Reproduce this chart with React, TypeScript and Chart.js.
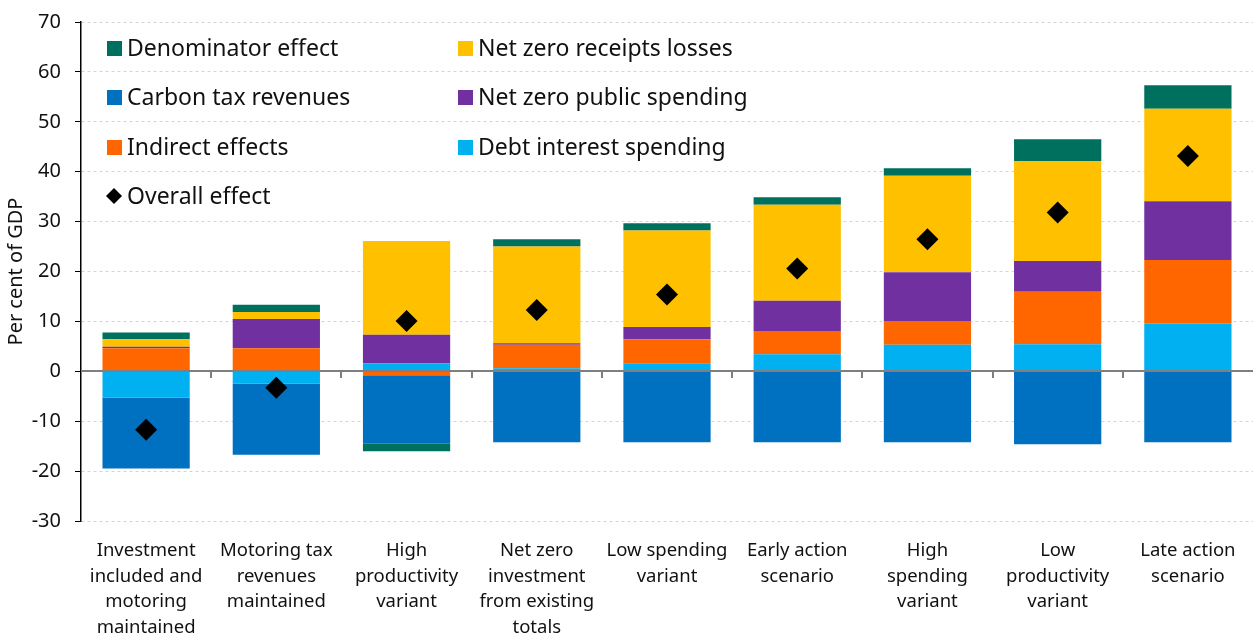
import React, { useEffect, useRef } from "react";
import { Chart, registerables } from "chart.js";

Chart.register(...registerables);

const categories: string[][] = [
  ["Investment", "included and", "motoring", "maintained"],
  ["Motoring tax", "revenues", "maintained"],
  ["High", "productivity", "variant"],
  ["Net zero", "investment", "from existing", "totals"],
  ["Low spending", "variant"],
  ["Early action", "scenario"],
  ["High", "spending", "variant"],
  ["Low", "productivity", "variant"],
  ["Late action", "scenario"],
];

const debtInterest = [-5.3, -2.5, 1.6, 0.6, 1.6, 3.4, 5.3, 5.4, 9.6];
const indirectEffects = [4.6, 4.6, -0.8, 4.7, 4.8, 4.7, 4.8, 10.55, 12.7];
const carbonTax = [-14.2, -14.2, -13.7, -14.2, -14.2, -14.2, -14.2, -14.6, -14.2];
const netZeroSpending = [0.3, 5.9, 5.7, 0.3, 2.5, 6.05, 9.75, 6.15, 11.8];
const netZeroReceipts = [1.5, 1.4, 18.8, 19.4, 19.3, 19.25, 19.35, 20.05, 18.5];
const denominator = [1.4, 1.45, -1.5, 1.45, 1.45, 1.5, 1.5, 4.35, 4.7];
const overallEffect = [-11.7, -3.3, 10.1, 12.3, 15.4, 20.6, 26.45, 31.8, 43.15];

const yTicks = { min: -30, max: 70, step: 10 };

const FONT = "'Noto Sans', sans-serif";

const COLORS = {
  denominator: "#00705E",
  receipts: "#FFC000",
  carbon: "#0070C0",
  spending: "#7030A0",
  indirect: "#FF6600",
  debt: "#00B0F0",
  overall: "#000000",
};

const legendItems = [
  { label: "Denominator effect", color: COLORS.denominator, col: 0, row: 0, diamond: false },
  { label: "Net zero receipts losses", color: COLORS.receipts, col: 1, row: 0, diamond: false },
  { label: "Carbon tax revenues", color: COLORS.carbon, col: 0, row: 1, diamond: false },
  { label: "Net zero public spending", color: COLORS.spending, col: 1, row: 1, diamond: false },
  { label: "Indirect effects", color: COLORS.indirect, col: 0, row: 2, diamond: false },
  { label: "Debt interest spending", color: COLORS.debt, col: 1, row: 2, diamond: false },
  { label: "Overall effect", color: COLORS.overall, col: 0, row: 3, diamond: true },
];

const overlayPlugin = {
  id: "overlay",
  afterDatasetsDraw(chart: any) {
    const ctx = chart.ctx;
    const { left, right } = chart.chartArea;
    const y = chart.scales.y;
    const x = chart.scales.x;
    const zy = Math.round(y.getPixelForValue(0));
    ctx.save();
    ctx.strokeStyle = "#7f7f7f";
    ctx.lineWidth = 2;
    ctx.beginPath();
    ctx.moveTo(left, zy);
    ctx.lineTo(right, zy);
    ctx.stroke();
    const n = categories.length;
    for (let i = 1; i < n; i++) {
      const px = Math.round((x.getPixelForValue(i - 1) + x.getPixelForValue(i)) / 2);
      ctx.beginPath();
      ctx.moveTo(px, zy);
      ctx.lineTo(px, zy + 7);
      ctx.stroke();
    }
    ctx.restore();
  },
  afterDraw(chart: any) {
    const ctx = chart.ctx;
    ctx.save();
    ctx.font = `23px ${FONT}`;
    ctx.textBaseline = "middle";
    const colX = [107, 458];
    const rowY = [48, 97, 147, 196];
    legendItems.forEach((it) => {
      const bx = colX[it.col];
      const cy = rowY[it.row];
      ctx.fillStyle = it.color;
      if (it.diamond) {
        ctx.beginPath();
        ctx.moveTo(bx + 7, cy - 8);
        ctx.lineTo(bx + 15, cy);
        ctx.lineTo(bx + 7, cy + 8);
        ctx.lineTo(bx - 1, cy);
        ctx.closePath();
        ctx.fill();
      } else {
        ctx.fillRect(bx, cy - 7, 15, 15);
      }
      ctx.fillStyle = "#111";
      ctx.fillText(it.label, bx + 20, cy + 1);
    });
    ctx.restore();
  },
};

export default function App() {
  const ref = useRef<HTMLCanvasElement | null>(null);

  useEffect(() => {
    document.body.style.margin = "0";
    document.body.style.overflow = "hidden";
    if (!ref.current) return;
    const barDs = (label: string, data: number[], color: string) => ({
      type: "bar" as const,
      label,
      data,
      backgroundColor: color,
      borderWidth: 0,
      stack: "s",
      categoryPercentage: 1,
      barPercentage: 0.67,
      order: 1,
    });
    const chart = new Chart(ref.current, {
      type: "bar",
      data: {
        labels: categories as any,
        datasets: [
          barDs("Debt interest spending", debtInterest, COLORS.debt),
          barDs("Indirect effects", indirectEffects, COLORS.indirect),
          barDs("Carbon tax revenues", carbonTax, COLORS.carbon),
          barDs("Net zero public spending", netZeroSpending, COLORS.spending),
          barDs("Net zero receipts losses", netZeroReceipts, COLORS.receipts),
          barDs("Denominator effect", denominator, COLORS.denominator),
          {
            type: "line" as const,
            label: "Overall effect",
            data: overallEffect,
            showLine: false,
            pointStyle: "rectRot",
            pointRadius: 11,
            pointHoverRadius: 11,
            pointBackgroundColor: COLORS.overall,
            pointBorderColor: COLORS.overall,
            pointBorderWidth: 0,
            stack: "overall",
            order: 0,
          } as any,
        ],
      },
      options: {
        animation: false,
        responsive: true,
        maintainAspectRatio: false,
        layout: { autoPadding: false, padding: { top: 22, right: 0, left: 0, bottom: 0 } } as any,
        plugins: {
          legend: { display: false },
          tooltip: { enabled: false },
        },
        scales: {
          x: {
            stacked: true,
            grid: { display: false },
            border: { display: false },
            ticks: {
              color: "#111",
              font: { family: FONT, size: 18.5, lineHeight: 1.38 },
              padding: 9,
              maxRotation: 0,
              autoSkip: false,
            },
            afterFit(scale: any) {
              scale.height = 113;
              scale.paddingLeft = 0;
              scale.paddingRight = 0;
            },
          },
          y: {
            stacked: true,
            min: yTicks.min,
            max: yTicks.max,
            ticks: {
              stepSize: yTicks.step,
              color: "#111",
              font: { family: FONT, size: 20 },
              padding: 14,
            },
            grid: {
              color: "#d4d4d4",
              lineWidth: 1,
              tickColor: "#000",
              tickLength: 6,
              tickBorderDash: [],
            } as any,
            border: { color: "#000", width: 1.5, dash: [3, 3] } as any,
            title: {
              display: true,
              text: "Per cent of GDP",
              color: "#111",
              font: { family: FONT, size: 20 },
              padding: { top: 4, bottom: 0 },
            },
            afterFit(scale: any) {
              scale.width = 81;
              scale.paddingTop = 0;
              scale.paddingBottom = 0;
            },
          },
        },
      },
      plugins: [overlayPlugin],
    });
    return () => chart.destroy();
  }, []);

  return (
    <div style={{ width: 1253, height: 634, position: "relative", overflow: "hidden" }}>
      <canvas ref={ref} style={{ display: "block" }} />
    </div>
  );
}
